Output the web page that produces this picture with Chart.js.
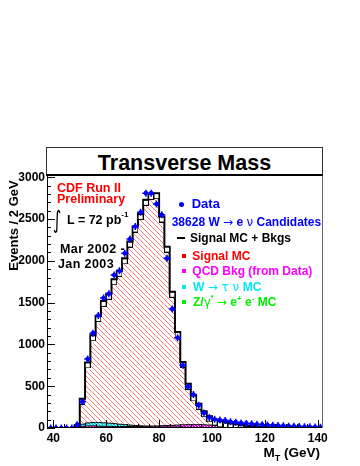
<!DOCTYPE html>
<html>
<head>
<meta charset="utf-8">
<script src="https://cdn.jsdelivr.net/npm/chart.js@4.4.1/dist/chart.umd.min.js"></script>
<style>
  html, body { margin: 0; padding: 0; background: #fff; }
  #wrap { position: relative; width: 360px; height: 466px; overflow: hidden;
    font-family: "Liberation Sans", Arial, sans-serif; font-weight: bold; }
  #wrap canvas { position: absolute; left: 0; top: 0; }
  .txt { position: absolute; white-space: nowrap; line-height: 1; }
  .sym { font-family: "DejaVu Sans", sans-serif; font-weight: normal; }
  .mk { position: absolute; }
  #titleBox { position: absolute; left: 46px; top: 147px; width: 277px; height: 29px;
    box-sizing: border-box; border: 1px solid #333; border-bottom: 2px solid #000; background: #fff; }
</style>
</head>
<body>
<div id="wrap">
  <canvas id="c" width="360" height="466"></canvas>
  <div id="titleBox"></div>
  <div class="txt" style="left:46px;width:277px;text-align:center;top:152.5px;font-size:21.5px">Transverse Mass</div>

  <div class="txt" style="left:-37px;top:219px;width:100px;text-align:center;font-size:13px;transform:rotate(-90deg)">Events / 2 GeV</div>
  <div class="txt" style="right:40px;top:446.3px;font-size:13.5px">M<span style="font-size:9px;position:relative;top:4px">T</span> (GeV)</div>

  <!-- 주석 -->
  <div class="txt" style="left:57px;top:181.9px;font-size:12.5px;color:#ff0000">CDF Run II</div>
  <div class="txt" style="left:57px;top:192.9px;font-size:12.5px;color:#ff0000">Preliminary</div>
  <div class="txt sym" style="left:53px;top:208px;font-size:16px;transform:scaleY(1.5);transform-origin:top left">∫</div>
  <div class="txt" style="left:67px;top:214.4px;font-size:12.5px">L = 72 pb<span style="font-size:8px;position:relative;top:-7px">-1</span></div>
  <div class="txt" style="left:60px;top:242.7px;font-size:12.5px;letter-spacing:0.4px">Mar 2002 -</div>
  <div class="txt" style="left:58px;top:257.7px;font-size:12.5px;letter-spacing:0.4px">Jan 2003</div>

  <!-- 범례 -->
  <div class="mk" style="left:179.2px;top:201.5px;width:5px;height:5px;border-radius:50%;background:#0000ff"></div>
  <div class="txt" style="left:191.7px;top:197.3px;font-size:13px;color:#0000ff">Data</div>
  <div class="txt" style="left:171.7px;top:215.8px;font-size:12px;color:#0000ff">38628 W <span class="sym">→</span> e <span class="sym">ν</span> Candidates</div>
  <div class="mk" style="left:176.7px;top:236.7px;width:8.3px;height:2px;background:#000"></div>
  <div class="txt" style="left:190px;top:232.1px;font-size:12px;color:#000">Signal MC + Bkgs</div>
  <div class="mk" style="left:182.3px;top:254px;width:4px;height:4px;background:#ff0000"></div>
  <div class="txt" style="left:192.3px;top:249.8px;font-size:12px;color:#ff0000">Signal MC</div>
  <div class="mk" style="left:182.3px;top:268.7px;width:4px;height:4px;background:#ff00ff"></div>
  <div class="txt" style="left:192.3px;top:264.8px;font-size:12px;color:#ff00ff">QCD Bkg (from Data)</div>
  <div class="mk" style="left:182.3px;top:284.7px;width:4px;height:4px;background:#00e8f0"></div>
  <div class="txt" style="left:193px;top:280.8px;font-size:12px;color:#00e8f0">W <span class="sym">→ τ ν</span> MC</div>
  <div class="mk" style="left:182.3px;top:299.7px;width:4px;height:4px;background:#00ee00"></div>
  <div class="txt" style="left:193px;top:295.8px;font-size:12px;color:#00ee00">Z/<span class="sym">γ</span><span style="font-size:7px;position:relative;top:-6px">*</span> <span class="sym">→</span> e<span style="font-size:8px;position:relative;top:-5px">+</span> e<span style="font-size:8px;position:relative;top:-5px">-</span> MC</div>
</div>

<script>
// 빈 중심 (GeV, 2 GeV 폭)
const binCenters = [39, 41, 43, 45, 47, 49, 51, 53, 55, 57, 59, 61, 63, 65, 67, 69, 71, 73, 75, 77,
  79, 81, 83, 85, 87, 89, 91, 93, 95, 97, 99, 101, 103, 105, 107, 109, 111, 113, 115, 117,
  119, 121, 123, 125, 127, 129, 131, 133, 135, 137, 139, 141];

// 관측 데이터
const dataCounts = [0, 0, 0, 0, 0, 40,
  315, 825, 1135, 1345, 1555, 1605, 1830, 1880, 2090, 2260,
  2410, 2580, 2810, 2810, 2680, 2550, 2030, 1425, 1080, 750,
  495, 400, 272, 180, 125, 105, 95, 90, 75, 70,
  60, 55, 50, 45, 40, 35, 32, 30, 26, 22,
  20, 18, 15, 14, 12, 8];

// Signal MC + Bkgs
const totalMC = [0, 0, 0, 0, 0, 15,
  350, 785, 1110, 1340, 1520, 1605, 1780, 1880, 2030, 2230,
  2410, 2560, 2730, 2800, 2810, 2530, 2170, 1630, 1150, 790,
  530, 390, 290, 200, 140, 100, 80, 65, 55, 45,
  35, 25, 20, 15, 12, 10, 8, 6, 5, 4,
  3, 3, 2, 2, 2, 1];

// Signal MC
const signalMC = [0, 0, 0, 0, 0, 5,
  280, 695, 1015, 1248, 1433, 1522, 1705, 1812, 1967, 2171,
  2355, 2508, 2680, 2748, 2755, 2475, 2116, 1576, 1096, 736,
  477, 338, 240, 152, 97, 62, 50, 40, 35, 30,
  22, 14, 11, 8, 6, 5, 4, 3, 2, 2,
  1, 1, 1, 1, 1, 0];

// W -> tau nu MC
const wTauNu = [0, 0, 0, 0, 0, 5,
  45, 60, 65, 65, 62, 58, 52, 45, 40, 35,
  30, 26, 22, 20, 18, 15, 12, 10, 8, 6,
  5, 4, 3, 3, 2, 2, 1, 1, 1, 1,
  1, 1, 1, 0, 0, 0, 0, 0, 0, 0,
  0, 0, 0, 0, 0, 0];

// QCD Bkg (from Data)
const qcdBkg = [0, 0, 0, 0, 0, 5,
  20, 25, 25, 22, 20, 20, 18, 18, 18, 18,
  18, 18, 20, 22, 25, 28, 30, 32, 35, 38,
  40, 40, 40, 38, 35, 30, 25, 20, 15, 12,
  10, 8, 6, 5, 4, 3, 3, 2, 2, 1,
  1, 1, 1, 1, 1, 1];

// Z/gamma* -> ee MC
const zBkg = [0, 0, 0, 0, 0, 0,
  2, 5, 5, 5, 5, 5, 5, 5, 5, 6,
  7, 8, 8, 10, 12, 12, 12, 12, 11, 10,
  8, 8, 7, 7, 6, 6, 5, 5, 5, 3,
  3, 2, 2, 2, 1, 1, 1, 1, 1, 1,
  1, 1, 1, 0, 0, 0];

// 눈금
const xTicks = [40, 60, 80, 100, 120, 140];
const yTicks = [0, 500, 1000, 1500, 2000, 2500, 3000];

const toPoints = (vals) => vals.map((v, i) => ({ x: binCenters[i], y: v }));

const canvas = document.getElementById("c");
const mainCtx = canvas.getContext("2d");

// 빗금 패턴
const makeHatch = (line, bg, size) => {
  const c = document.createElement("canvas");
  c.width = c.height = size;
  const g = c.getContext("2d");
  if (bg) {
    g.fillStyle = bg;
    g.fillRect(0, 0, size, size);
  }
  g.strokeStyle = line;
  g.lineWidth = 0.8;
  g.beginPath();
  g.moveTo(-1, -1);
  g.lineTo(size + 1, size + 1);
  g.moveTo(-1, size - 1);
  g.lineTo(1, size + 1);
  g.moveTo(size - 1, -1);
  g.lineTo(size + 1, 1);
  g.stroke();
  return mainCtx.createPattern(c, "repeat");
};

const redHatch = makeHatch("rgba(255,30,30,0.75)", "rgba(255,255,255,0)", 5);
const cyanHatch = makeHatch("#ffffff", "#00e8f0", 3);
const magentaHatch = makeHatch("#ffffff", "#ff00ff", 3);
const greenHatch = makeHatch("#ffffff", "#00ee00", 3);

// MC 막대 위의 열린 사각형 마커
const boxMarker = document.createElement("canvas");
boxMarker.width = 6;
boxMarker.height = 12;
{
  const s = boxMarker.getContext("2d");
  s.fillStyle = "#fff";
  s.fillRect(0, 6, 6, 6);
  s.strokeStyle = "#000";
  s.lineWidth = 1;
  s.strokeRect(0.5, 6.5, 5, 5);
}

// 안쪽 눈금과 테두리
const frameTicks = {
  id: "frameTicks",
  afterDatasetsDraw(chart) {
    const { ctx, chartArea: a, scales } = chart;
    const x = scales.x, y = scales.y;
    ctx.save();
    ctx.strokeStyle = "#000";
    ctx.lineWidth = 1;
    ctx.beginPath();
    for (let v = 40; v <= 140; v += 4) {
      const px = Math.round(x.getPixelForValue(v)) + 0.5;
      const len = v % 20 === 0 ? 8 : 4;
      ctx.moveTo(px, a.bottom);
      ctx.lineTo(px, a.bottom - len);
    }
    for (let v = 0; v <= 3000; v += 100) {
      const py = Math.round(y.getPixelForValue(v)) + 0.5;
      const len = v % 500 === 0 ? 8 : 4;
      ctx.moveTo(a.left, py);
      ctx.lineTo(a.left + len, py);
    }
    ctx.stroke();
    ctx.beginPath();
    ctx.moveTo(a.left + 0.5, a.top);
    ctx.lineTo(a.left + 0.5, a.bottom - 0.5);
    ctx.lineTo(a.right, a.bottom - 0.5);
    ctx.stroke();
    ctx.strokeStyle = "#666";
    ctx.beginPath();
    ctx.moveTo(a.right - 0.5, a.top);
    ctx.lineTo(a.right - 0.5, a.bottom);
    ctx.stroke();
    ctx.restore();
  },
};

const histBase = {
  stepped: "middle",
  pointRadius: 0,
  fill: "origin",
};

const tickFont = { family: "Liberation Sans", weight: "bold", size: 12 };

new Chart(mainCtx, {
  type: "line",
  data: {
    datasets: [
      { ...histBase, label: "Signal MC", data: toPoints(signalMC), backgroundColor: redHatch, borderWidth: 0, order: 6 },
      { ...histBase, label: "W tau nu", data: toPoints(wTauNu), backgroundColor: cyanHatch, borderColor: "#000", borderWidth: 1, order: 5 },
      { ...histBase, label: "QCD", data: toPoints(qcdBkg), backgroundColor: magentaHatch, borderColor: "#000", borderWidth: 1, order: 4 },
      { ...histBase, label: "Z", data: toPoints(zBkg), backgroundColor: greenHatch, borderColor: "#000", borderWidth: 1, order: 3 },
      {
        label: "Signal MC + Bkgs",
        data: toPoints(totalMC),
        stepped: "middle",
        fill: false,
        borderColor: "#000",
        borderWidth: 2,
        pointStyle: boxMarker,
        pointRadius: (c) => (c.raw && c.raw.y > 0 ? 3 : 0),
        order: 2,
      },
      {
        label: "Data err",
        data: toPoints(dataCounts),
        showLine: false,
        pointStyle: "cross",
        pointRadius: 3.5,
        borderColor: "#0000ff",
        borderWidth: 1.5,
        order: 1,
      },
      {
        label: "Data",
        data: toPoints(dataCounts),
        showLine: false,
        pointStyle: "circle",
        pointRadius: 2.3,
        backgroundColor: "#0000ff",
        borderColor: "#0000ff",
        borderWidth: 0,
        order: 0,
      },
    ],
  },
  options: {
    responsive: false,
    animation: false,
    events: [],
    layout: { padding: { left: 0, right: 37, top: 175, bottom: 0 } },
    plugins: { legend: { display: false }, tooltip: { enabled: false } },
    scales: {
      x: {
        type: "linear",
        min: 37.6,
        max: 142,
        grid: { display: false, drawTicks: false },
        border: { display: false },
        afterBuildTicks: (s) => { s.ticks = xTicks.map((v) => ({ value: v })); },
        afterFit: (s) => { s.height = 38; s.paddingLeft = 0; s.paddingRight = 0; },
        ticks: {
          color: "#000",
          padding: 3,
          maxRotation: 0,
          font: tickFont,
          callback: (v) => String(v),
        },
      },
      y: {
        type: "linear",
        min: 0,
        max: 3027,
        grid: { display: false, drawTicks: false },
        border: { display: false },
        afterBuildTicks: (s) => { s.ticks = yTicks.map((v) => ({ value: v })); },
        afterFit: (s) => { s.width = 47; },
        ticks: {
          color: "#000",
          padding: 2,
          font: tickFont,
          callback: (v) => String(v),
        },
      },
    },
  },
  plugins: [frameTicks],
});
</script>
</body>
</html>
